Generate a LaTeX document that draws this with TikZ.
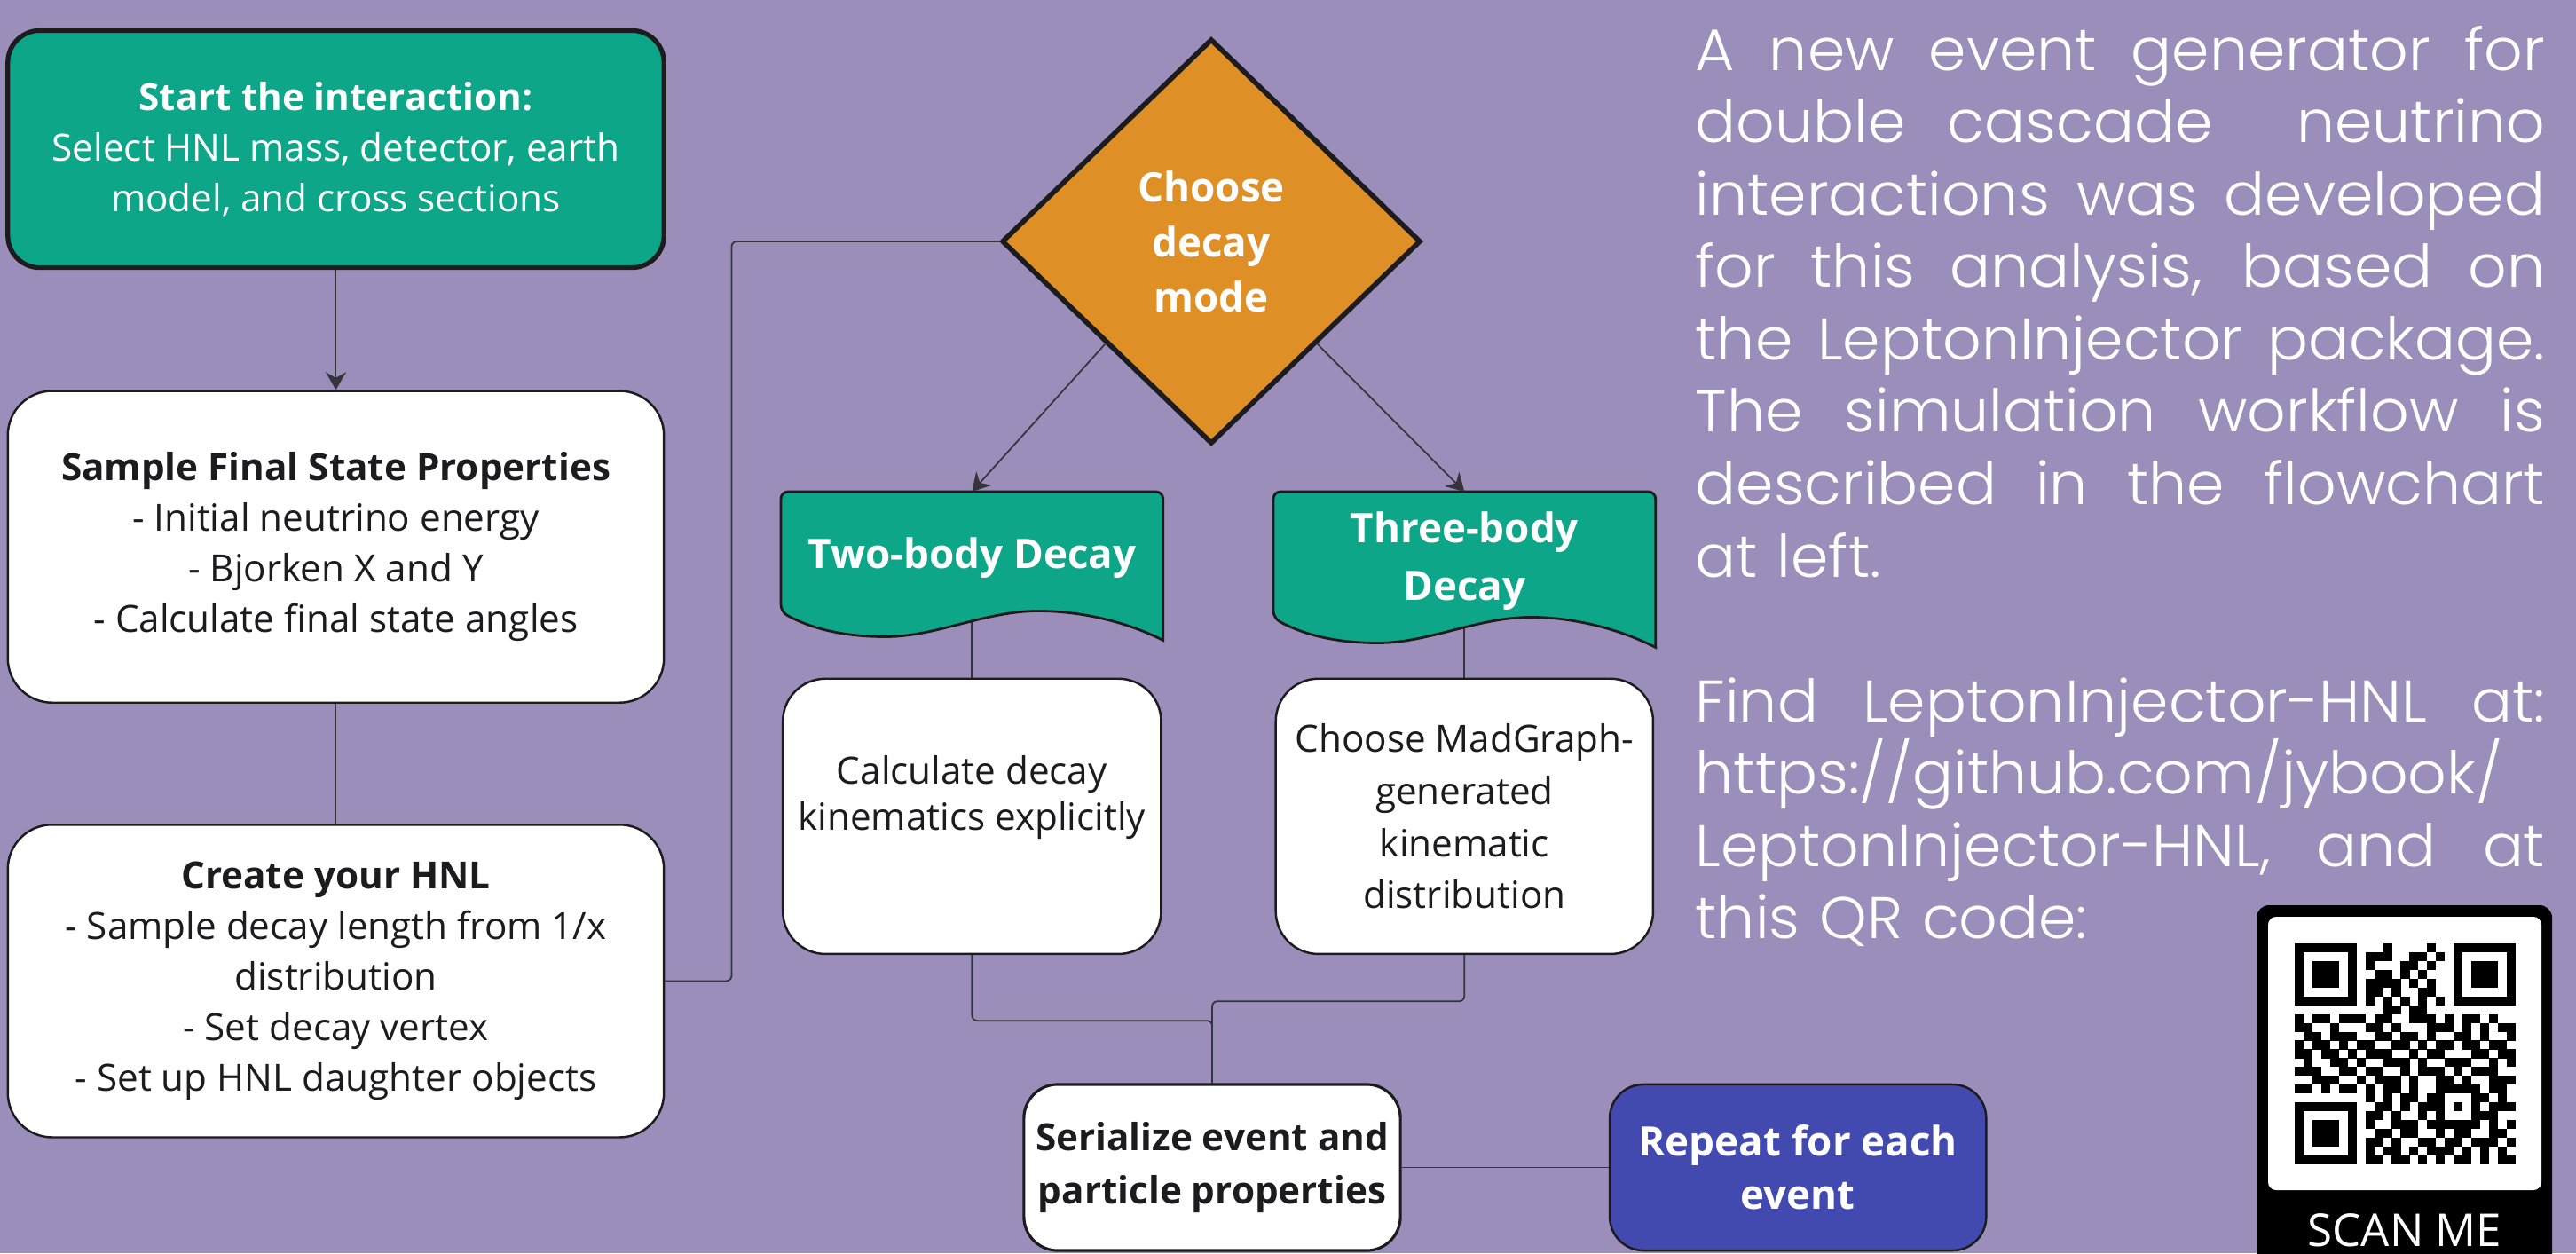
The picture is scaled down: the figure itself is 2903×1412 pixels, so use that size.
\documentclass[tikz,border=0pt]{standalone}
\usepackage{fontspec}
\setmainfont{Open Sans}
\newfontfamily\parafont{Poppins}[UprightFont=* Light, FakeStretch=1.03]
\usepackage{xcolor}
\usepackage{tikz}
\usetikzlibrary{arrows.meta,positioning,calc,shapes.geometric}

\definecolor{bgpurple}{RGB}{155,142,186}
\definecolor{hnlteal}{RGB}{14,166,137}
\definecolor{decorange}{RGB}{222,144,38}
\definecolor{repblue}{RGB}{66,74,176}
\definecolor{edge}{RGB}{28,28,30}
\definecolor{wire}{RGB}{52,52,58}

\pgfdeclarelayer{bg}
\pgfsetlayers{bg,main}

% one row of the qr code: row number, then a string of 0/1
\newcommand\qrline[2]{\def\qrcol{0}\def\qrrow{#1}\expandafter\qrbits#2\relax}
\newcommand\qrbits[1]{\ifx#1\relax\else
  \if1#1\fill[black] ({2586+\qrcol*9.95},{1063+\qrrow*9.95}) rectangle ++(10.1,10.1);\fi
  \pgfmathtruncatemacro\qrcol{\qrcol+1}%
  \expandafter\qrbits\fi}

% banner with a wavy bottom, drawn round a node
\newcommand\flagshape[2]{%
  \filldraw[flag] ($(#1.south east)+(0,#2)$) [rounded corners=0.08cm] -- (#1.north east) -- (#1.north west) -- (#1.south west) [sharp corners]
    .. controls +(40,22) and +(-38,0) .. ($(#1.south west)+(118,28)$)
    .. controls +(57,0) and +(-60,0) .. ($(#1.south west)+(290,-1)$)
    .. controls +(50,0) and +(-39,-20) .. ($(#1.south east)+(0,#2)$) -- cycle;}

% justified line of the side text
\newcommand\fullline[1]{\makebox[9.57cm][s]{\spaceskip=0.3em plus 1fil\relax #1}}

\begin{document}
\begin{tikzpicture}[x=0.01cm, y=-0.01cm,
  box/.style={draw=edge, line width=0.7pt, rounded corners=0.5cm, fill=#1, align=center, text=edge,
    font=\fontsize{12pt}{16.2pt}\selectfont, minimum width=7.39cm, inner sep=0pt},
  box/.default=white,
  decide/.style={diamond, draw=edge, line width=1.6pt, fill=decorange, text=white, align=center,
    font=\bfseries\fontsize{13pt}{17.6pt}\selectfont, minimum width=4.72cm, minimum height=4.56cm, inner sep=0pt},
  banner/.style={text=white, align=center, font=\bfseries\fontsize{13pt}{18.5pt}\selectfont,
    minimum width=4.29cm, inner sep=0pt, anchor=north west},
  flag/.style={fill=hnlteal, draw=edge, line width=0.8pt},
  wire/.style={draw=wire, line width=0.5pt},
  arr/.style={wire, -{Stealth[length=2mm, width=2.3mm]}},
  para/.style={text=white, font=\parafont\fontsize{18.8pt}{23.2pt}\selectfont, text width=9.57cm,
    align=left, inner sep=0pt, anchor=base west}]
\useasboundingbox (0,0) rectangle (2903,1412);

% left column
\node[box=hnlteal, text=white, line width=1.5pt, rounded corners=0.36cm, minimum height=2.67cm] (start) at (378.5,168)
  {\textbf{Start the interaction:}\\Select HNL mass, detector, earth\\model, and cross sections};
\node[box, minimum height=3.51cm, below=1.35cm of start] (sample)
  {\textbf{Sample Final State Properties}\\- Initial neutrino energy\\- Bjorken X and Y\\- Calculate final state angles};
\node[box, minimum height=3.52cm, below=1.35cm of sample] (create)
  {\textbf{Create your HNL}\\- Sample decay length from 1/x\\distribution\\- Set decay vertex\\- Set up HNL daughter objects};

% decay branch
\node[decide] (mode) at (1365,272) {Choose\\decay\\mode};
\node[banner, minimum height=1.34cm] (two) at (880,554) {\rule{0pt}{14pt}Two-body Decay};
\node[banner, minimum height=1.41cm] (three) at (1435,554) {\rule{0pt}{14pt}Three-body\\Decay};
\node[box, minimum width=4.26cm, minimum height=3.1cm, rounded corners=0.48cm, font=\fontsize{12pt}{15pt}\selectfont,
  below=0.74cm of two] (calc) {Calculate decay\\kinematics explicitly\\\mbox{}};
\node[box, minimum width=4.25cm, minimum height=3.1cm, rounded corners=0.48cm, font=\fontsize{12pt}{16.7pt}\selectfont,
  below=0.67cm of three] (mad) {Choose MadGraph-\\generated\\kinematic\\distribution};
\node[box, minimum width=4.24cm, minimum height=1.87cm, rounded corners=0.38cm, line width=0.9pt,
  font=\bfseries\fontsize{12pt}{16.8pt}\selectfont] (ser) at (1366,1315.5) {Serialize event and\\particle properties};
\node[box=repblue, text=white, minimum width=4.24cm, minimum height=1.87cm, rounded corners=0.38cm,
  font=\bfseries\fontsize{13pt}{17pt}\selectfont, right=2.33cm of ser] (rep) {Repeat for each\\event};

\draw[arr] (start) -- (sample);
\draw[arr] (mode.south west) -- (two.north);
\draw[arr] (mode.south east) -- (three.north);

\begin{pgfonlayer}{bg}
\fill[bgpurple] (0,0) rectangle (2903,1412);
\draw[wire] (sample) -- (create);
\draw[wire, rounded corners=0.06cm] (create.east) -- ++(75,0) |- (mode.west);
\draw[wire] (two) -- (calc);
\draw[wire] (three) -- (mad);
\draw[wire, rounded corners=0.06cm] (calc.south) -- ++(0,74) -| (ser.north);
\draw[wire, rounded corners=0.06cm] (mad.south) -- ++(0,52) -| (ser.north);
\draw[wire] (ser) -- (rep);
\flagshape{two}{32}
\flagshape{three}{33}
\end{pgfonlayer}

% text on the right
\node[para] (about) at (1910,79)
  {\fullline{A new event generator for}\\
   \fullline{double cascade\ \ neutrino}\\
   \fullline{interactions was developed}\\
   \fullline{for this analysis, based on}\\
   \fullline{the LeptonInjector package.}\\
   \fullline{The simulation workflow is}\\
   \fullline{described in the flowchart}\\
   at left.};
\node[para] (find) at (1910,813)
  {\fullline{Find LeptonInjector-HNL at:}\\
   https://github.com/jybook/\\
   \fullline{LeptonInjector-HNL, and at}\\
   this QR code:};

% qr code
\fill[black, rounded corners=0.14cm] (2543,1020) rectangle (2876,1460);
\fill[white, rounded corners=0.09cm] (2556,1033) rectangle (2864,1341);
\foreach \row/\bits in {
  0/1111111000100001001111111, 1/1000001011100110101000001, 2/1011101010001101001011101,
  3/1011101001101010001011101, 4/1011101011110101001011101, 5/1000001011010011001000001,
  6/1111111010101010101111111, 7/0000000000110110000000000, 8/1011011101100111010110100,
  9/1100100011010001110101011, 10/0110111001101101001101001, 11/1011010110011010110110110,
  12/1101101011100101100011011, 13/0100110100111010011100101, 14/1110011011001011101011100,
  15/0011100101110100110100111, 16/1101011010110100111110110, 17/0000000010101101100011010,
  18/1111111001101011101010111, 19/1000001011010010100011100, 20/1011101010011101111110101,
  21/1011101001101100101100110, 22/1011101011010011011011101, 23/1000001010110101110101010,
  24/1111111011011010101101011}
  {\qrline{\row}{\bits}}
\node[text=white, font=\fontsize{14.5pt}{17pt}\selectfont, anchor=base, inner sep=0pt] (scan) at (2710,1404) {SCAN ME};
\end{tikzpicture}
\end{document}
